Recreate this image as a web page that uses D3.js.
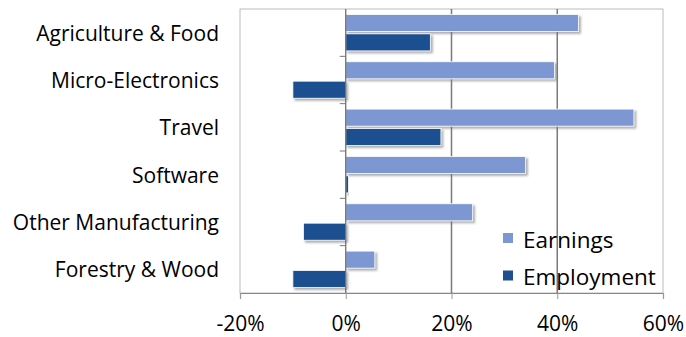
<!DOCTYPE html>
<html><head><meta charset="utf-8">
<script src="https://cdn.jsdelivr.net/npm/d3@7"></script>
<style>body{margin:0;background:#fff}svg{display:block}</style>
</head><body>
<svg id="chart" width="686" height="337"></svg>
<script>
// Sector growth: earnings vs employment (%)
const categories = ["Agriculture & Food","Micro-Electronics","Travel","Software","Other Manufacturing","Forestry & Wood"];
const earnings   = [44, 39.5, 54.5, 34, 24, 5.5];
const employment = [16, -10, 18, 0.5, -8, -10];
const tickValues = [-20, 0, 20, 40, 60];
const seriesNames = ["Earnings","Employment"];
const seriesColors = ["#7d97d2","#1f4f8f"];

(function draw(){
const svg = d3.select("#chart");
const font = "'Open Sans', sans-serif";
const pLeft = 240, pRight = 663, pTop = 9, pBottom = 293;
const x = d3.scaleLinear().domain([-20, 60]).range([pLeft, pRight]);
const y = d3.scaleBand().domain(categories).range([pTop, pBottom]).paddingInner(0).paddingOuter(0);
const sub = d3.scaleBand().domain(seriesNames).range([0, y.bandwidth()]).paddingInner(0.12).paddingOuter(0.28);

const defs = svg.append("defs");
const f = defs.append("filter").attr("id","shadow").attr("x","-10%").attr("y","-30%").attr("width","130%").attr("height","180%");
f.append("feDropShadow").attr("dx",2).attr("dy",2).attr("stdDeviation",1).attr("flood-color","#777").attr("flood-opacity",0.6);

// plot frame
svg.append("rect").attr("x",pLeft).attr("y",pTop).attr("width",pRight-pLeft).attr("height",pBottom-pTop)
  .attr("fill","none").attr("stroke","#bbb").attr("stroke-width",1);

// vertical gridlines
svg.append("g").selectAll("line").data(tickValues.filter(d=>d>0 && d<60)).join("line")
  .attr("x1",d=>x(d)).attr("x2",d=>x(d)).attr("y1",pTop).attr("y2",pBottom)
  .attr("stroke","#7a7a7a").attr("stroke-width",1.5);

// bars
const rows = categories.map((c,i)=>({c, vals:[earnings[i], employment[i]]}));
const g = svg.append("g");
rows.forEach(r=>{
  r.vals.forEach((v,j)=>{
    g.append("rect")
      .attr("x", x(Math.min(0,v)))
      .attr("y", y(r.c) + sub(seriesNames[j]))
      .attr("width", Math.abs(x(v)-x(0)))
      .attr("height", sub.bandwidth())
      .attr("fill", seriesColors[j])
      .attr("stroke", "#fff").attr("stroke-width",0.8)
      .attr("filter","url(#shadow)");
  });
});

// zero axis with category ticks
svg.append("line").attr("x1",x(0)).attr("x2",x(0)).attr("y1",pTop).attr("y2",pBottom).attr("stroke","#666").attr("stroke-width",1.2);
svg.append("g").selectAll("line").data(categories.slice(1)).join("line")
  .attr("x1",x(0)-6).attr("x2",x(0)).attr("y1",d=>y(d)).attr("y2",d=>y(d))
  .attr("stroke","#777");

// bottom axis
const xAxis = d3.axisBottom(x).tickValues(tickValues).tickSize(6).tickFormat(d=>d+"%");
const ax = svg.append("g").attr("transform",`translate(0,${pBottom})`).call(xAxis);
ax.select(".domain").attr("stroke","#888").attr("stroke-width",1.2);
ax.selectAll(".tick line").attr("stroke","#999");
ax.selectAll("text").attr("font-family",font).attr("font-size",21).attr("fill","#000")
  .attr("y",32).attr("dy",0).attr("dominant-baseline","middle");

// category labels
svg.append("g").selectAll("text").data(categories).join("text")
  .attr("x",219).attr("y",d=>y(d)+y.bandwidth()/2)
  .attr("text-anchor","end").attr("dominant-baseline","central")
  .attr("font-family",font).attr("font-size",21).attr("fill","#000")
  .text(d=>d);

// legend
const lg = svg.append("g");
seriesNames.forEach((n,i)=>{
  const ly = 238 + i*37.5;
  lg.append("rect").attr("x",503).attr("y",ly-5).attr("width",10).attr("height",10).attr("fill",seriesColors[i]);
  lg.append("text").attr("x",523).attr("y",ly+1).attr("dominant-baseline","central")
    .attr("font-family",font).attr("font-size",22.5).attr("fill","#000").text(n);
});
})();
</script>
</body></html>
